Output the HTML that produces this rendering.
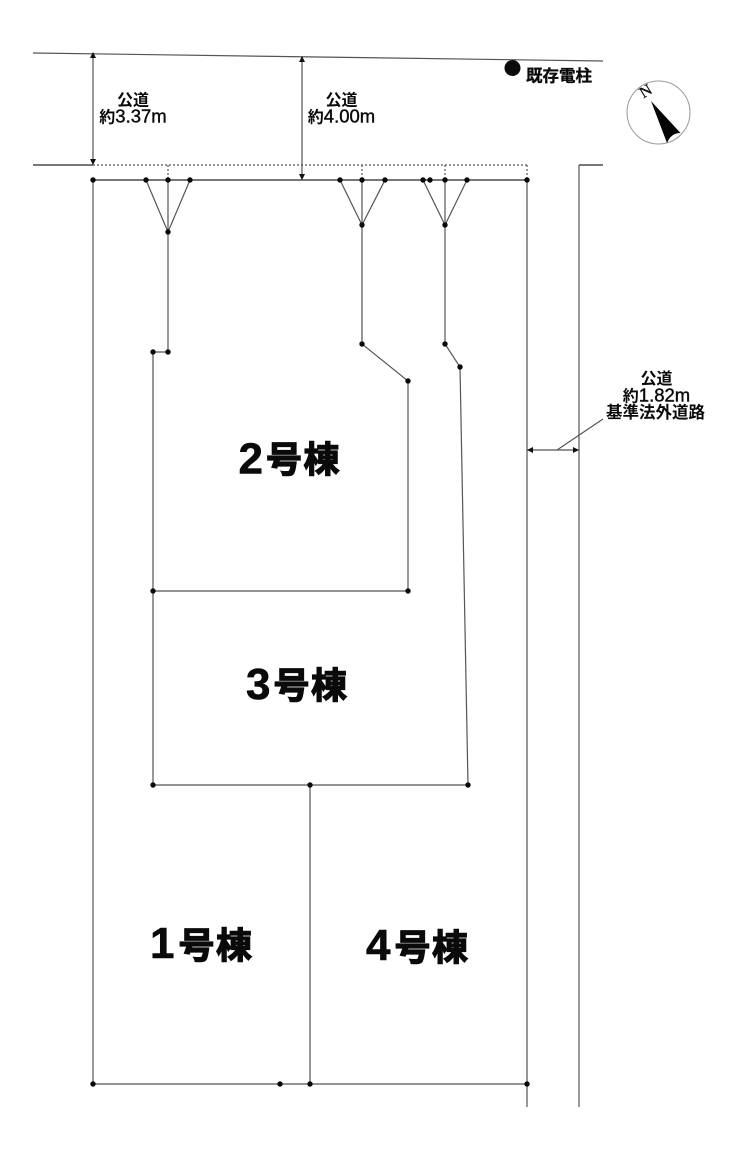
<!DOCTYPE html>
<html lang="ja">
<head>
<meta charset="utf-8">
<style>
html,body{margin:0;padding:0;background:#fff;width:740px;height:1160px;overflow:hidden}
svg{display:block}
text{font-family:"Liberation Sans","Noto Sans CJK JP",sans-serif;fill:#0a0a0a;font-weight:700}
.l{stroke:#555;stroke-width:1.2;fill:none}
.h{stroke:#666;stroke-width:1.7;fill:none}
.d{stroke:#555;stroke-width:1.2;stroke-dasharray:2 2;fill:none}
.m{font-size:16px;text-anchor:middle}
.n{font-size:18.5px;font-weight:400;stroke:#0a0a0a;stroke-width:.4}
.b{font-size:36px;letter-spacing:1.5px;stroke:#0a0a0a;stroke-width:1.3}
.g{font-size:44px;stroke:#0a0a0a;stroke-width:.6}
</style>
</head>
<body>
<svg width="740" height="1160" viewBox="0 0 740 1160" xmlns="http://www.w3.org/2000/svg">
<rect width="740" height="1160" fill="#fff"/>
<path class="l" d="M33 53L603 61M579 165V1107M527 180V1107M93 180V1084M93 1084H527"/>
<path class="h" d="M33 165H93M579 165H603M93 180H527"/>
<path class="d" d="M93 165H527M168 165V180M362 165V180M445 165V180M527 165V180"/>
<path class="l" d="M93 53V165M302 57V180M527 450H579M557 450L603 419"/>
<path fill="#111" d="M93 52l-3 6h6zM93 165l-3-6h6zM302 56l-3 6h6zM302 180l-3-6h6zM527 450l6-3v6zM579 450l-6-3v6z"/>
<path class="l" d="M146 180L168 232L190 180M168 180V352H153V785M153 591H408V381L362 344V180M340 180L362 225L385 180"/>
<path class="l" d="M423 180L445 225L467 180M445 180V344L460 367L468 785H153M310 785V1084"/>
<g fill="#0a0a0a">
<circle cx="93" cy="180" r="2.7"/><circle cx="146" cy="180" r="2.7"/><circle cx="168" cy="180" r="2.7"/><circle cx="190" cy="180" r="2.7"/><circle cx="168" cy="232" r="2.7"/>
<circle cx="340" cy="180" r="2.7"/><circle cx="362" cy="180" r="2.7"/><circle cx="385" cy="180" r="2.7"/><circle cx="362" cy="225" r="2.7"/>
<circle cx="423" cy="180" r="2.7"/><circle cx="430" cy="180" r="2.7"/><circle cx="445" cy="180" r="2.7"/><circle cx="467" cy="180" r="2.7"/><circle cx="445" cy="225" r="2.7"/>
<circle cx="527" cy="180" r="2.7"/>
<circle cx="153" cy="352" r="2.7"/><circle cx="168" cy="352" r="2.7"/><circle cx="362" cy="344" r="2.7"/><circle cx="408" cy="381" r="2.7"/><circle cx="445" cy="344" r="2.7"/><circle cx="460" cy="367" r="2.7"/>
<circle cx="153" cy="591" r="2.7"/><circle cx="408" cy="591" r="2.7"/><circle cx="153" cy="785" r="2.7"/><circle cx="310" cy="785" r="2.7"/><circle cx="468" cy="785" r="2.7"/>
<circle cx="93" cy="1084" r="2.7"/><circle cx="280" cy="1084" r="2.7"/><circle cx="310" cy="1084" r="2.7"/><circle cx="527" cy="1084" r="2.7"/>
<circle cx="512.500" cy="68" r="8"/>
</g>
<circle cx="658.500" cy="112.500" r="31.500" fill="#fff" stroke="#999" stroke-width="1"/>
<path fill="#050505" d="M651 101L680.500 133Q671 133 667 143Z"/>
<text transform="translate(643.500 98.500) rotate(-32)" style="font-family:'Liberation Serif','Noto Serif CJK SC',serif;font-size:16px;font-weight:400;stroke:#0a0a0a;stroke-width:.3">N</text>
<text class="m" x="133" y="105.500">公道</text>
<text class="m" x="133" y="122.500">約<tspan class="n">3.37m</tspan></text>
<text class="m" x="341.500" y="105.500">公道</text>
<text class="m" x="341.500" y="122.500">約<tspan class="n">4.00m</tspan></text>
<text x="526" y="81.500" style="font-size:16.500px;stroke:#0a0a0a;stroke-width:.3">既存電柱</text>
<text class="m" x="656.500" y="384">公道</text>
<text class="m" x="656.500" y="401.500">約<tspan class="n">1.82m</tspan></text>
<text class="m" x="655.500" y="418" style="font-size:16.500px">基準法外道路</text>
<text class="g" x="238.500" y="473.500">2</text><text class="b" x="266" y="472">号棟</text>
<text class="g" x="246" y="699">3</text><text class="b" x="273.500" y="698">号棟</text>
<text class="g" x="150" y="958">1</text><text class="b" x="178.500" y="958">号棟</text>
<text class="g" x="366" y="960">4</text><text class="b" x="394.500" y="960">号棟</text>
</svg>
</body>
</html>
